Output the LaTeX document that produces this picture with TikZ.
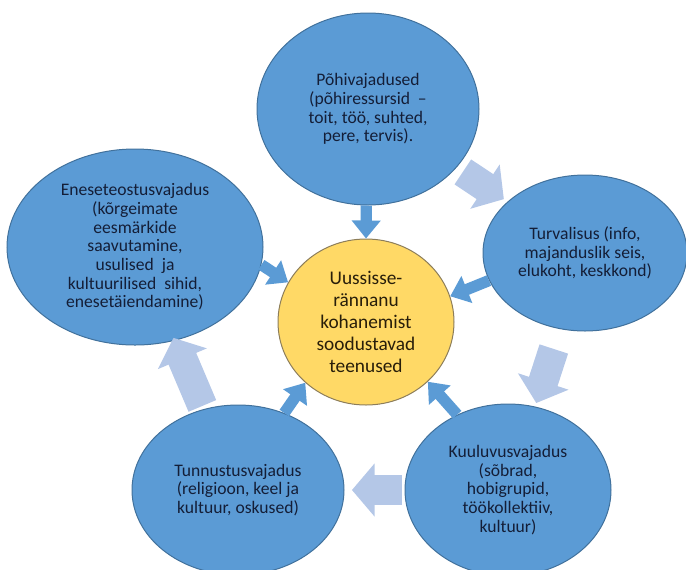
\documentclass[tikz,border=0pt]{standalone}
\usepackage{fontspec}
\setmainfont{Carlito}
\usetikzlibrary{shapes.geometric,arrows.meta,calc}

\definecolor{needblue}{RGB}{91,155,213}
\definecolor{needline}{RGB}{65,113,156}
\definecolor{coreyellow}{RGB}{255,217,102}
\definecolor{coreline}{RGB}{140,125,90}
\definecolor{paleblue}{RGB}{180,199,231}

\tikzset{every picture/.style={line width=0.75pt}}
\tikzset{
  need/.style={ellipse, draw=needline, fill=needblue, inner sep=0pt, align=center,
    font=\fontsize{13.2}{14}\selectfont, text={rgb,255:red,20;green,30;blue,55}},
  core/.style={ellipse, draw=coreline, fill=coreyellow, inner sep=0pt, align=center,
    font=\fontsize{14.5}{16.5}\selectfont, text={rgb,255:red,40;green,30;blue,10}},
  feed/.style={draw=needblue, line width=8.5pt, -{Triangle[width=21pt,length=13.5pt]}},
  pass/.style={draw=paleblue, line width=22.5pt, -{Triangle[width=39pt,length=17pt]}}
}

\begin{document}
\begin{tikzpicture}[x=0.75pt,y=0.75pt,yscale=-1,xscale=1]
\clip (0,0) rectangle (686,569);

%Shape: Ellipse
\node [need, minimum width=166.5pt, minimum height=144pt] (basic) at (368,109) {Põhivajadused\\(põhiressursid \ –\\toit, töö, suhted,\\pere, tervis).};
%Shape: Ellipse
\node [need, minimum width=153pt, minimum height=117pt] (safety) at (585,253) {Turvalisus (info,\\majanduslik seis,\\elukoht, keskkond)};
%Shape: Ellipse
\node [need, minimum width=154.5pt, minimum height=129pt] (belong) at (508,490) {Kuuluvusvajadus\\(sõbrad,\\hobigrupid,\\töökollektiiv,\\kultuur)};
%Shape: Ellipse
\node [need, minimum width=159pt, minimum height=127.5pt] (esteem) at (238,490) {Tunnustusvajadus\\(religioon, keel ja\\kultuur, oskused)};
%Shape: Ellipse
\node [need, minimum width=192pt, minimum height=147pt] (self) at (135,247) {Eneseteostusvajadus\\(kõrgeimate\\eesmärkide\\saavutamine,\\usulised \ ja\\kultuurilised \ sihid,\\enesetäiendamine)};
%Shape: Ellipse
\node [core, minimum width=132pt, minimum height=124.5pt] (center) at (366,322) {Uussisse-\\rännanu\\kohanemist\\soodustavad\\teenused};

%Straight Lines
\draw [feed] (basic.-91) -- (center.north);
\draw [feed] (self.-8) -- (center.153);
\draw [feed] (safety.196) -- (center.17);
\draw [feed] (belong.124) -- (center.-44);
\draw [feed] (esteem.59) -- (center.-135);

%Block Arrows
\draw [pass] ($(basic)!0.437!(safety)$) -- ($(basic)!0.626!(safety)$);
\draw [pass] ($(safety)!0.405!(belong)$) -- ($(safety)!0.633!(belong)$);
\draw [pass] ($(belong)!0.393!(esteem)$) -- ($(belong)!0.578!(esteem)$);
\draw [pass] ($(esteem)!0.346!(self)$) -- ($(esteem)!0.626!(self)$);

\end{tikzpicture}
\end{document}
